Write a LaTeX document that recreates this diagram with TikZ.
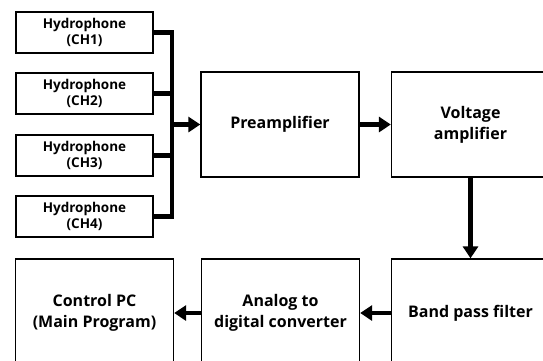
\documentclass[tikz,border=0pt]{standalone}
\usepackage{fontspec}
\setmainfont{Open Sans}
\usetikzlibrary{arrows.meta}

\begin{document}
\begin{tikzpicture}[x=1pt,y=-1pt]
 \tikzset{block/.style = {shape=rectangle,draw,line width=1.3pt,minimum width=158pt,minimum height=105pt,align=center,font=\bfseries\fontsize{16}{21}\selectfont}}
 \tikzset{sensor/.style = {shape=rectangle,draw,line width=1.3pt,minimum width=137pt,minimum height=41pt,inner sep=1pt,align=center,font=\bfseries\fontsize{13.5}{16.5}\selectfont}}
 \tikzset{bus/.style = {line width=4.5pt}}
 \tikzset{edge/.style = {line width=4.5pt,-{Triangle[length=12pt,width=15pt]}}}
 \useasboundingbox (0,0) rectangle (543,360);
 \clip (0,0) rectangle (543,360);
 % vertices
 \node[sensor] (h1) at (84.5,32.5) {Hydrophone\\(CH1)};
 \node[sensor] (h2) at (84.5,93.5) {Hydrophone\\(CH2)};
 \node[sensor] (h3) at (84.5,155.5) {Hydrophone\\(CH3)};
 \node[sensor] (h4) at (84.5,216.5) {Hydrophone\\(CH4)};
 \node[block] (pre) at (280,124.5) {Preamplifier};
 \node[block] (volt) at (470.5,124.5) {Voltage\\amplifier};
 \node[block,minimum height=108pt] (bpf) at (470.5,313) {Band pass filter};
 \node[block,minimum height=108pt] (adc) at (280.5,313) {Analog to\\digital converter};
 \node[block,minimum height=108pt] (pc) at (94.5,313) {Control PC\\(Main Program)};
 \coordinate (j) at (172,124.5);

 %edges
 \draw[bus] (h1.east) -| (j) |- (h4.east);
 \draw[bus] (h2.east) -- (h2.east -| j);
 \draw[bus] (h3.east) -- (h3.east -| j);
 \draw[edge] (j) -- (pre);
 \draw[edge] (pre) -- (volt);
 \draw[edge] (volt) -- (bpf);
 \draw[edge] (bpf) -- (adc);
 \draw[edge] (adc) -- (pc);
\end{tikzpicture}
\end{document}
